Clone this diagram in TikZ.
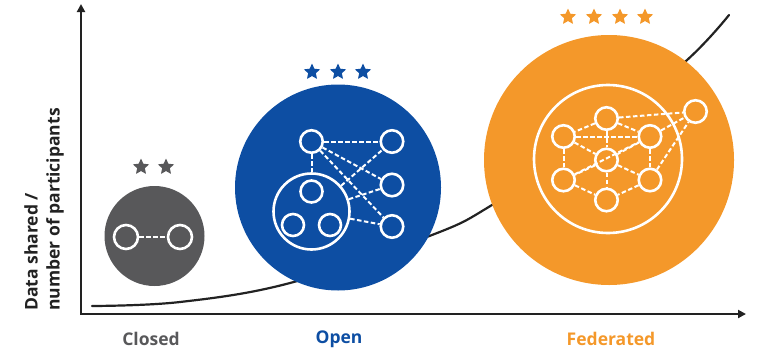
\documentclass[tikz,border=0pt]{standalone}
\usepackage{fontspec}
\setmainfont{Open Sans}
\usetikzlibrary{arrows.meta,shapes.geometric}
\definecolor{cgray}{HTML}{58585A}
\definecolor{cblue}{HTML}{0D4EA3}
\definecolor{corange}{HTML}{F4982A}
\definecolor{taxis}{HTML}{222222}
\tikzset{
 axisline/.style={line width=2.4pt, draw=taxis},
 curveline/.style={line width=2.2pt, draw=taxis, line cap=round},
 wnode/.style={circle, draw=white, line width=2.6pt, minimum size=22.5pt, inner sep=0pt},
 wring/.style={circle, draw=white, line width=2.6pt, inner sep=0pt},
 wdash/.style={draw=white, line width=2pt, dash pattern=on 4.5pt off 2.5pt},
 rstar/.style={star, star points=5, star point ratio=2.1, minimum size=17pt, inner sep=0pt, fill=#1},
 bigdisc/.style={circle, fill=#1, inner sep=0pt},
 lbl/.style={font=\bfseries\fontsize{17.5}{20}\selectfont}
}
\begin{document}
\begin{tikzpicture}[x=1pt,y=-1pt]
\useasboundingbox (0,0) rectangle (759,351);
% axes
\coordinate (ytop) at (81,4);
\coordinate (orig) at (81,314);
\coordinate (xend) at (746,314);
\draw[axisline, {Triangle[length=8pt,width=8pt]}-{Triangle[length=8pt,width=8pt]}] (ytop) -- (orig) -- (xend);
% growth curve
\draw[curveline] plot[smooth, tension=0.6] coordinates {(92,306) (180,302) (290,283) (432,235) (492,205) (590,140) (686,61) (729,15)};
% closed
\node[bigdisc=cgray, minimum size=100pt] (gdisc) at (154.5,236) {};
\node[rstar=cgray] (gs1) at (141,167) {};
\node[rstar=cgray] (gs2) at (166,167) {};
\node[wnode, minimum size=24pt] (gL) at (126,237) {};
\node[wnode, minimum size=24pt] (gR) at (180,237) {};
\draw[wdash] (gL) -- (gR);
% open
\node[bigdisc=cblue, minimum size=206pt] (bdisc) at (338,187.5) {};
\node[rstar=cblue] (bs1) at (312,72) {};
\node[rstar=cblue] (bs2) at (338,72) {};
\node[rstar=cblue] (bs3) at (363,72) {};
\node[wnode] (bTL) at (311.5,141.5) {};
\node[wnode] (bR1) at (392,141.5) {};
\node[wnode] (bR2) at (392,185) {};
\node[wnode] (bR3) at (392,226.5) {};
\node[wring, minimum size=76pt] (bBig) at (311.5,211.5) {};
\node[wnode, minimum size=22pt] (bI1) at (311.5,191.5) {};
\node[wnode, minimum size=22pt] (bI2) at (293,225) {};
\node[wnode, minimum size=22pt] (bI3) at (330,225) {};
\draw[wdash] (bTL) -- (bR1);
\draw[wdash] (bTL) -- (bR2);
\draw[wdash] (bTL) -- (bR3);
\draw[wdash] (bTL) -- (bBig);
\draw[wdash] (bBig) -- (bR1);
\draw[wdash] (bBig) -- (bR2);
\draw[wdash] (bBig) -- (bR3);
% federated
\node[bigdisc=corange, minimum size=250pt] (odisc) at (609,160) {};
\node[rstar=corange] (os1) at (568,17) {};
\node[rstar=corange] (os2) at (594,17) {};
\node[rstar=corange] (os3) at (620,17) {};
\node[rstar=corange] (os4) at (645,17) {};
\node[wring, minimum size=148pt] (oIn) at (608,159) {};
\node[wnode] (oA) at (606.5,118.5) {};
\node[wnode] (oB) at (563.5,136.5) {};
\node[wnode] (oC) at (650,136.5) {};
\node[wnode] (oD) at (606.5,160) {};
\node[wnode] (oE) at (563.5,180) {};
\node[wnode] (oF) at (650,180) {};
\node[wnode] (oG) at (606.5,200) {};
\node[wnode] (oH) at (695.5,111.5) {};
\draw[wdash] (oA) -- (oB);
\draw[wdash] (oA) -- (oC);
\draw[wdash] (oA) -- (oD);
\draw[wdash] (oB) -- (oC);
\draw[wdash] (oB) -- (oD);
\draw[wdash] (oB) -- (oE);
\draw[wdash] (oC) -- (oD);
\draw[wdash] (oC) -- (oF);
\draw[wdash] (oD) -- (oE);
\draw[wdash] (oD) -- (oF);
\draw[wdash] (oD) -- (oG);
\draw[wdash] (oE) -- (oG);
\draw[wdash] (oF) -- (oG);
\draw[wdash] (oE) -- (oC);
\draw[wdash] (oA) -- (oH);
\draw[wdash] (oC) -- (oH);
\draw[wdash] (oF) -- (oH);
% labels
\node[lbl, text=cgray] (lclosed) at (151,339) {Closed};
\node[lbl, text=cblue] (lopen) at (339,339) {Open};
\node[lbl, text=corange] (lfed) at (611,339) {Federated};
\node[rotate=90, anchor=west, align=left, inner sep=0pt, text=taxis, font=\bfseries\fontsize{17.5}{22}\selectfont] (ylab) at (44,311) {Data shared /\\number of participants};
\end{tikzpicture}
\end{document}
